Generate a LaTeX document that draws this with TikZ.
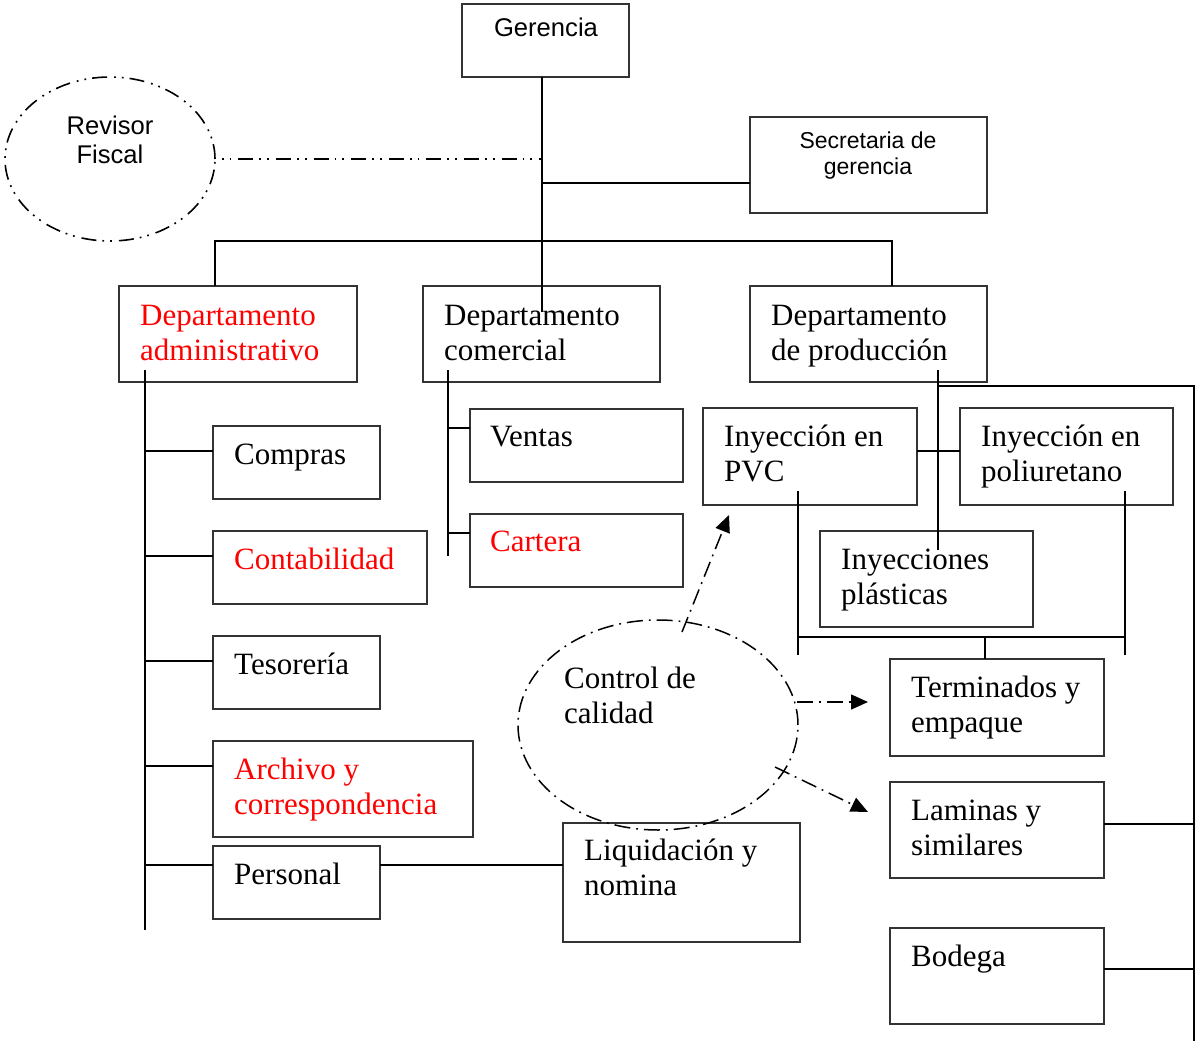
\documentclass[tikz,border=0pt]{standalone}
\usepackage{fontspec}
\setmainfont{Liberation Serif}
\newfontfamily\arialfont{Liberation Sans}
\usetikzlibrary{shapes.geometric,arrows.meta,calc}
\definecolor{deptred}{RGB}{255,0,0}
% two stacked lines, baseline on the first one
\newcommand\twoline[2]{\vtop{\hbox{#1}\hbox{#2}}}
\newcommand\ctwoline[3]{\vtop{\hbox to #1{\hfil #2\hfil}\hbox to #1{\hfil #3\hfil}}}
\begin{document}
\begin{tikzpicture}[x=1pt,y=-1pt,
  box/.style={draw=black!80,line width=1.1pt,inner sep=0pt,outer sep=0pt,anchor=north west},
  serif/.style={inner sep=0pt,anchor=base west,font=\fontsize{31}{35}\selectfont},
  sans/.style={inner sep=0pt,anchor=base,font=\arialfont\fontsize{25.6}{29}\selectfont},
  conn/.style={line width=1.9pt,black},
  dashdotdot/.style={line width=1.6pt,dash pattern=on 15pt off 6pt on 1.8pt off 6pt on 1.8pt off 7pt},
  dashdot/.style={line width=1.5pt,dash pattern=on 16pt off 6pt on 1.8pt off 6pt},
  tip/.style={-{Triangle[length=17pt,width=15pt]}}]
\useasboundingbox (0,0) rectangle (1195,1041);

% ---- top level ----
\node[box,minimum width=167pt,minimum height=73pt] (gerencia) at (462,4) {};
\node[sans] (gerenciaT) at (546,37) {Gerencia};

\node[draw,ellipse,dashdotdot,minimum width=210pt,minimum height=164pt,inner sep=0pt] (revisor) at (110,159) {};
\node[sans] (revisorT) at (110,134) {\ctwoline{160pt}{Revisor}{Fiscal}};

\node[box,minimum width=237pt,minimum height=96pt] (secretaria) at (750,117) {};
\node[sans,font=\arialfont\fontsize{23}{26}\selectfont] (secretariaT) at (868,148) {\ctwoline{200pt}{Secretaria de}{gerencia}};

% ---- departments ----
\node[box,minimum width=238pt,minimum height=96pt] (admin) at (119,286) {};
\node[serif,text=deptred] (adminT) at ($(admin.north west)+(21,39)$) {\twoline{Departamento}{administrativo}};
\node[box,minimum width=237pt,minimum height=96pt] (comercial) at (423,286) {};
\node[serif] (comercialT) at ($(comercial.north west)+(21,39)$) {\twoline{Departamento}{comercial}};
\node[box,minimum width=237pt,minimum height=96pt] (produccion) at (750,286) {};
\node[serif] (produccionT) at ($(produccion.north west)+(21,39)$) {\twoline{Departamento}{de producción}};

% ---- administrative units ----
\node[box,minimum width=167pt,minimum height=73pt] (compras) at (213,426) {};
\node[serif] (comprasT) at ($(compras.north west)+(21,38)$) {Compras};
\node[box,minimum width=214pt,minimum height=73pt] (contabilidad) at (213,531) {};
\node[serif,text=deptred] (contabilidadT) at ($(contabilidad.north west)+(21,38)$) {Contabilidad};
\node[box,minimum width=167pt,minimum height=73pt] (tesoreria) at (213,636) {};
\node[serif] (tesoreriaT) at ($(tesoreria.north west)+(21,38)$) {Tesorería};
\node[box,minimum width=260pt,minimum height=96pt] (archivo) at (213,741) {};
\node[serif,text=deptred] (archivoT) at ($(archivo.north west)+(21,38)$) {\twoline{Archivo y}{correspondencia}};
\node[box,minimum width=167pt,minimum height=73pt] (personal) at (213,846) {};
\node[serif] (personalT) at ($(personal.north west)+(21,38)$) {Personal};
\node[box,minimum width=237pt,minimum height=119pt] (liquidacion) at (563,823) {};
\node[serif] (liquidacionT) at ($(liquidacion.north west)+(21,37)$) {\twoline{Liquidación y}{nomina}};

% ---- commercial units ----
\node[box,minimum width=213pt,minimum height=73pt] (ventas) at (470,409) {};
\node[serif] (ventasT) at ($(ventas.north west)+(20,37)$) {Ventas};
\node[box,minimum width=213pt,minimum height=73pt] (cartera) at (470,514) {};
\node[serif,text=deptred] (carteraT) at ($(cartera.north west)+(20,37)$) {Cartera};

% ---- production units ----
\node[box,minimum width=214pt,minimum height=97pt] (pvc) at (703,408) {};
\node[serif] (pvcT) at ($(pvc.north west)+(21,38)$) {\twoline{Inyección en}{PVC}};
\node[box,minimum width=213pt,minimum height=97pt] (poliuretano) at (960,408) {};
\node[serif] (poliuretanoT) at ($(poliuretano.north west)+(21,38)$) {\twoline{Inyección en}{poliuretano}};
\node[box,minimum width=213pt,minimum height=96pt] (plasticas) at (820,531) {};
\node[serif] (plasticasT) at ($(plasticas.north west)+(21,38)$) {\twoline{Inyecciones}{plásticas}};
\node[box,minimum width=214pt,minimum height=97pt] (terminados) at (890,659) {};
\node[serif] (terminadosT) at ($(terminados.north west)+(21,38)$) {\twoline{Terminados y}{empaque}};
\node[box,minimum width=214pt,minimum height=96pt] (laminas) at (890,782) {};
\node[serif] (laminasT) at ($(laminas.north west)+(21,38)$) {\twoline{Laminas y}{similares}};
\node[box,minimum width=214pt,minimum height=96pt] (bodega) at (890,928) {};
\node[serif] (bodegaT) at ($(bodega.north west)+(21,38)$) {Bodega};

\node[draw,ellipse,dashdot,minimum width=280pt,minimum height=210pt,inner sep=0pt] (calidad) at (658,725) {};
\node[serif] (calidadT) at (564,688) {\twoline{Control de}{calidad}};

% ---- junction points ----
\coordinate (spine) at (542,0);
\coordinate (spineEnd) at (542,312);
\coordinate (secJ) at (542,183);
\coordinate (barL) at (215,241);
\coordinate (barR) at (892,241);
\coordinate (aTop) at (145,370);
\coordinate (aBot) at (145,930);
\coordinate (cTop) at (448,370);
\coordinate (cBot) at (448,556);
\coordinate (pTop) at (938,370);
\coordinate (pBot) at (938,550);
\coordinate (pTurn) at (938,386);
\coordinate (rTop) at (1194,386);
\coordinate (rBot) at (1194,1041);
\coordinate (pvcDown) at (798,491);
\coordinate (pvcEnd) at (798,655);
\coordinate (polDown) at (1125,491);
\coordinate (polEnd) at (1125,655);
\coordinate (joinL) at (798,637);
\coordinate (joinR) at (1125,637);
\coordinate (joinM) at (985,637);
\coordinate (qA) at (682,632);
\coordinate (qAtip) at (729,515);
\coordinate (qB) at (797,702);
\coordinate (qBtip) at (868,702);
\coordinate (qC) at (775,767);
\coordinate (qCtip) at (868,812);

% branch attachment points on the boxes
\path ($(compras.north west)+(0,25)$) coordinate (comprasIn)
      ($(contabilidad.north west)+(0,25)$) coordinate (contabilidadIn)
      ($(tesoreria.north west)+(0,25)$) coordinate (tesoreriaIn)
      ($(archivo.north west)+(0,25)$) coordinate (archivoIn)
      ($(personal.north west)+(0,19)$) coordinate (personalIn)
      ($(personal.north east)+(0,19)$) coordinate (personalOut)
      ($(ventas.north west)+(0,19)$) coordinate (ventasIn)
      ($(cartera.north west)+(0,19)$) coordinate (carteraIn)
      ($(pvc.north east)+(0,43)$) coordinate (pvcOut)
      ($(laminas.north east)+(0,42)$) coordinate (laminasOut)
      ($(bodega.north east)+(0,41)$) coordinate (bodegaOut);

% ---- management links ----
\draw[conn] (gerencia.south -| spine) -- (spineEnd);
\draw[dashdotdot,dash phase=15pt] (revisor.east) -- (revisor.east -| spine);
\draw[conn] (secJ) -- (secJ -| secretaria.west);
\draw[conn] (admin.north -| barL) -- (barL) -- (barR) -- (produccion.north -| barR);

% ---- administrative branch ----
\draw[conn] (aTop) -- (aBot);
\foreach \n in {compras,contabilidad,tesoreria,archivo,personal}
  \draw[conn] (\n In) -- (\n In -| aTop);
\draw[conn] (personalOut) -- (personalOut -| liquidacion.west);

% ---- commercial branch ----
\draw[conn] (cTop) -- (cBot);
\foreach \n in {ventas,cartera}
  \draw[conn] (\n In) -- (\n In -| cTop);

% ---- production branch ----
\draw[conn] (pTop) -- (pBot);
\draw[conn] (pvcOut) -- (pvcOut -| poliuretano.west);
\draw[conn] (pTurn) -- (rTop) -- (rBot);
\draw[conn] (laminasOut) -- (laminasOut -| rTop);
\draw[conn] (bodegaOut) -- (bodegaOut -| rTop);
\draw[conn] (pvcDown) -- (pvcEnd);
\draw[conn] (polDown) -- (polEnd);
\draw[conn] (joinL) -- (joinR);
\draw[conn] (joinM) -- (joinM |- terminados.north);

% ---- quality control links ----
\draw[dashdot,tip] (qA) -- (qAtip);
\draw[dashdot,tip] (qB) -- (qBtip);
\draw[dashdot,tip] (qC) -- (qCtip);
\end{tikzpicture}
\end{document}
